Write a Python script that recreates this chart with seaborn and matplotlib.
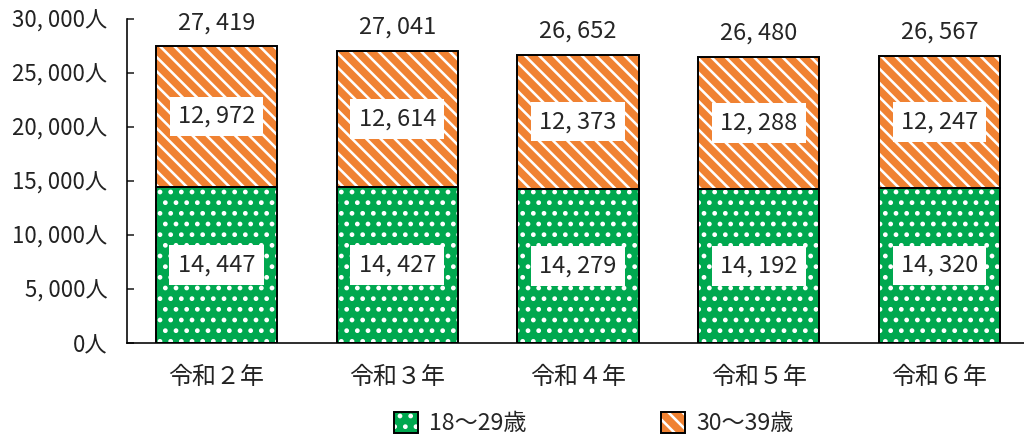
import matplotlib
matplotlib.use("Agg")
import matplotlib.pyplot as plt
from matplotlib.patches import Patch
from matplotlib.legend_handler import HandlerTuple
import seaborn as sns
import pandas as pd

# --- data -------------------------------------------------------------
years = ["令和２年", "令和３年", "令和４年", "令和５年", "令和６年"]
age_18_29 = [14447, 14427, 14279, 14192, 14320]
age_30_39 = [12972, 12614, 12373, 12288, 12247]
series_names = ["18～29歳", "30～39歳"]
y_ticks = [0, 5000, 10000, 15000, 20000, 25000, 30000]

totals = [a + b for a, b in zip(age_18_29, age_30_39)]
df = pd.DataFrame({"year": years, "young": age_18_29,
                   "older": age_30_39, "total": totals})

# --- style ------------------------------------------------------------
sns.set_theme(style="white")
plt.rcParams["font.family"] = ["Noto Sans CJK JP", "DejaVu Sans"]
plt.rcParams["hatch.linewidth"] = 1.45

GREEN = "#00a84f"
ORANGE = "#f08232"
STRIPES = "\\\\\\"
DOTS = ".."
BAR_W = 0.67
DPI = 128

fig = plt.figure(figsize=(1024 / DPI, 441 / DPI), dpi=DPI)
ax = fig.add_axes([127 / 1024, 1 - 343 / 441, 1 - 127 / 1024, (343 - 18.5) / 441])

# stacked bars: total (orange stripes) with the 18-29 part (green dots) on top
sns.barplot(data=df, x="year", y="total", color=ORANGE, saturation=1,
            width=BAR_W, edgecolor="white", linewidth=0, hatch=STRIPES,
            ax=ax, zorder=2)
sns.barplot(data=df, x="year", y="young", color=GREEN, saturation=1,
            width=BAR_W, edgecolor="white", linewidth=0, hatch=DOTS,
            ax=ax, zorder=2)

# black outlines of both segments
xpos = list(range(len(years)))
ax.bar(xpos, df["older"], bottom=df["young"], width=BAR_W, fill=False,
       edgecolor="black", linewidth=1.1, zorder=3)
ax.bar(xpos, df["young"], width=BAR_W, fill=False,
       edgecolor="black", linewidth=1.1, zorder=3)


def fmt(v):
    return f"{v:,}".replace(",", ", ")


box = dict(boxstyle="square,pad=0.35", facecolor="white", edgecolor="none")
for i, (y1, y2, t) in enumerate(zip(df["young"], df["older"], df["total"])):
    ax.text(i, y1 / 2, fmt(y1), ha="center", va="center", fontsize=13.3,
            bbox=box, zorder=5)
    ax.text(i, y1 + y2 / 2, fmt(y2), ha="center", va="center", fontsize=13.3,
            bbox=box, zorder=5)
    ax.annotate(fmt(t), (i, t), xytext=(0, 9.5), textcoords="offset points",
                ha="center", va="baseline", fontsize=13.3,
                annotation_clip=False)

# axes
ax.set_xlim(-0.495, 4.467)
ax.set_ylim(0, 30000)
ax.set_yticks(y_ticks)
ax.set_yticklabels([fmt(v) + "人" for v in y_ticks], fontsize=12.5)
ax.set_xticks(xpos)
ax.set_xticklabels(years, fontsize=13.5)
ax.tick_params(axis="y", direction="in", length=4, width=0.9, pad=11,
               colors="#222222", left=True)
ax.tick_params(axis="x", length=0, pad=12, colors="#222222")
ax.set_xlabel("")
ax.set_ylabel("")
for side in ("top", "right"):
    ax.spines[side].set_visible(False)
for side in ("left", "bottom"):
    ax.spines[side].set_color("black")
    ax.spines[side].set_linewidth(0.9)
ax.set_facecolor("white")
ax.grid(False)

# legend: hatched swatch overlaid with a black frame
h_young = (Patch(facecolor=GREEN, edgecolor="white", linewidth=0, hatch=DOTS),
           Patch(fill=False, edgecolor="black", linewidth=1.1))
h_older = (Patch(facecolor=ORANGE, edgecolor="white", linewidth=0,
                 hatch=STRIPES),
           Patch(fill=False, edgecolor="black", linewidth=1.1))
fig.legend([h_young, h_older], series_names,
           handler_map={tuple: HandlerTuple(ndivide=1, pad=0)},
           loc="center", bbox_to_anchor=(0.58, 0.04), ncol=2, frameon=False,
           fontsize=13, handlelength=1.05, handleheight=1.05,
           handletextpad=0.5, columnspacing=5.8)

fig.savefig("out.png", dpi=DPI, facecolor="white")
